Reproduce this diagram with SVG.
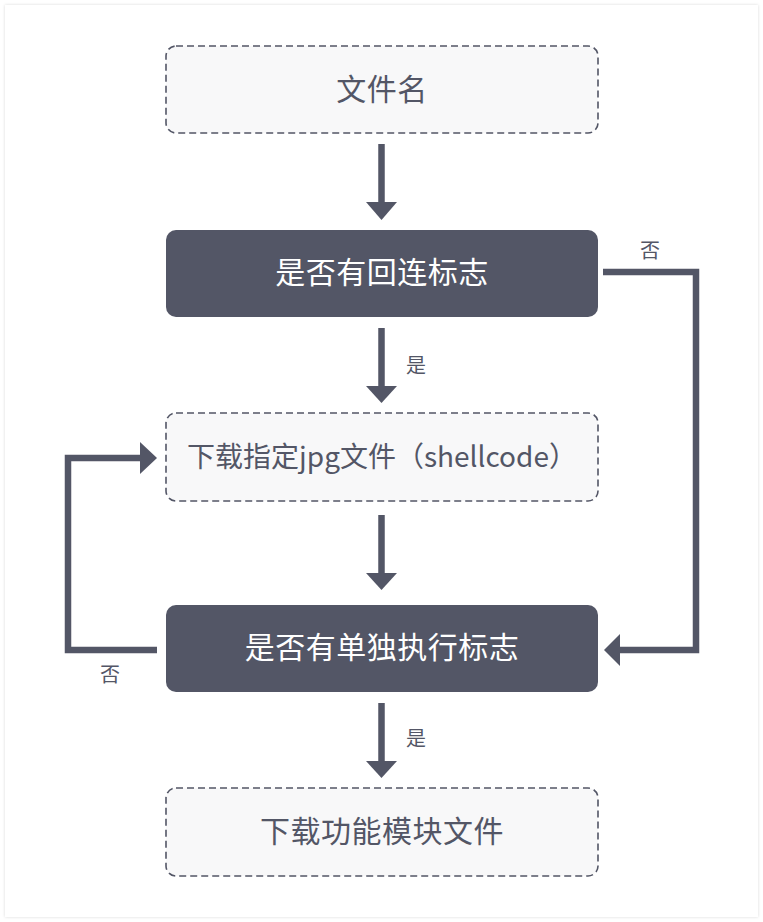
<svg xmlns="http://www.w3.org/2000/svg" width="763" height="922" viewBox="0 0 763 922">
<defs>
<style>
.light{fill:#f8f8f9;stroke:#535666;stroke-width:1.6;stroke-dasharray:7 4}
.dark{fill:#535666}
.t{font-family:"Noto Sans CJK SC","Open Sans",sans-serif;font-size:30px;text-anchor:middle;dominant-baseline:central;letter-spacing:0.5px}
.tl{fill:#535666}
.td{fill:#ffffff}
.lab{font-family:"Noto Sans CJK SC",sans-serif;font-size:20px;fill:#535666;text-anchor:middle;dominant-baseline:central}
.line{fill:none;stroke:#535666;stroke-width:6.5}
.head{fill:#535666}
</style>
<filter id="sh" x="-5%" y="-5%" width="110%" height="110%">
<feGaussianBlur stdDeviation="1.5"/>
</filter>
</defs>
<rect width="763" height="922" fill="#ffffff"/>
<rect x="5" y="5" width="753" height="912" fill="#d8d8d8" filter="url(#sh)"/>
<rect x="5" y="5" width="753" height="912" fill="#ffffff"/>
<g id="n1">
<rect class="light" x="166" y="46" width="432" height="87" rx="10"/>
<text class="t tl" x="382" y="87">文件名</text>
</g>
<g id="n2">
<rect class="dark" x="166" y="230" width="432" height="87" rx="10"/>
<text class="t td" x="382" y="270">是否有回连标志</text>
</g>
<g id="n3">
<rect class="light" x="166" y="413" width="432" height="88" rx="10"/>
<text class="t tl" x="382" y="455" style="font-size:28px;letter-spacing:0">下载指定jpg文件（shellcode）</text>
</g>
<g id="n4">
<rect class="dark" x="166" y="605" width="432" height="87" rx="10"/>
<text class="t td" x="382" y="645">是否有单独执行标志</text>
</g>
<g id="n5">
<rect class="light" x="166" y="788" width="432" height="88" rx="10"/>
<text class="t tl" x="382" y="829">下载功能模块文件</text>
</g>
<g id="connectors">
<line class="line" x1="381.5" y1="144" x2="381.5" y2="205"/>
<polygon class="head" points="366,202 397,202 381.5,220"/>
<line class="line" x1="381.5" y1="328" x2="381.5" y2="388"/>
<polygon class="head" points="366,386 397,386 381.5,403"/>
<text class="lab" x="416" y="364">是</text>
<line class="line" x1="381.5" y1="515" x2="381.5" y2="575"/>
<polygon class="head" points="366,573 397,573 381.5,590"/>
<line class="line" x1="381.5" y1="703" x2="381.5" y2="763"/>
<polygon class="head" points="366,761 397,761 381.5,778"/>
<text class="lab" x="416" y="737">是</text>
<polyline class="line" points="603,272 696,272 696,650 618,650"/>
<polygon class="head" points="620,634 620,666 604,650"/>
<text class="lab" x="650" y="249">否</text>
<polyline class="line" points="157,650 68,650 68,458 142,458"/>
<polygon class="head" points="140,442 140,474 157,458"/>
<text class="lab" x="110" y="673">否</text>
</g>
</svg>
